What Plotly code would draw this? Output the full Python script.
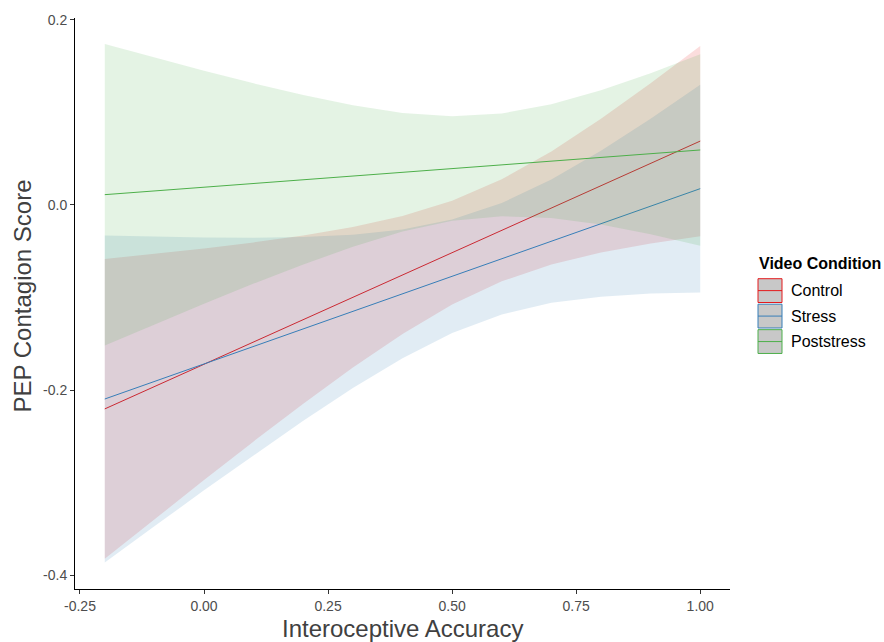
import plotly.graph_objects as go

# Predictor grid shared by all confidence ribbons
x_grid = [-0.2, -0.1, 0.0, 0.1, 0.2, 0.3, 0.4, 0.5, 0.6, 0.7, 0.8, 0.9, 1.0]

# Fitted-line endpoints per video condition
x_ends = [-0.2, 1.0]
control_fit = [-0.2204, 0.0690]
stress_fit = [-0.2097, 0.0176]
poststress_fit = [0.0111, 0.0594]

# 95% confidence ribbons per video condition
control_upper = [-0.0584, -0.0530, -0.0471, -0.0405, -0.0330, -0.0239, -0.0120,
                 0.0045, 0.0277, 0.0577, 0.0930, 0.1314, 0.1718]
control_lower = [-0.3824, -0.3396, -0.2973, -0.2555, -0.2148, -0.1757, -0.1394,
                 -0.1077, -0.0825, -0.0643, -0.0514, -0.0416, -0.0338]
stress_upper = [-0.0329, -0.0343, -0.0352, -0.0355, -0.0347, -0.0321, -0.0266,
                -0.0158, 0.0020, 0.0274, 0.0585, 0.0930, 0.1298]
stress_lower = [-0.3865, -0.3473, -0.3084, -0.2703, -0.2331, -0.1979, -0.1656,
                -0.1384, -0.1184, -0.1058, -0.0991, -0.0958, -0.0946]
poststress_upper = [0.1740, 0.1593, 0.1451, 0.1314, 0.1187, 0.1076, 0.0994,
                    0.0958, 0.0988, 0.1087, 0.1240, 0.1424, 0.1628]
poststress_lower = [-0.1518, -0.1291, -0.1067, -0.0850, -0.0643, -0.0452, -0.0288,
                    -0.0172, -0.0122, -0.0141, -0.0212, -0.0316, -0.0440]

conditions = ["Control", "Stress", "Poststress"]

# Axis ticks
x_tickvals = [-0.25, 0.0, 0.25, 0.5, 0.75, 1.0]
x_ticktext = ["-0.25", "0.00", "0.25", "0.50", "0.75", "1.00"]
y_tickvals = [-0.4, -0.2, 0.0, 0.2]
y_ticktext = ["-0.4", "-0.2", "0.0", "0.2"]

series = {
    "Control": (control_fit, control_upper, control_lower, (228, 26, 28)),
    "Stress": (stress_fit, stress_upper, stress_lower, (55, 126, 184)),
    "Poststress": (poststress_fit, poststress_upper, poststress_lower, (77, 175, 74)),
}

FONT = "Liberation Sans, Arial, sans-serif"
W, H = 884, 642
ML, MR, MT, MB = 75, 154, 13, 53
PW, PH = W - ML - MR, H - MT - MB


def px_x(p):
    return (p - ML) / PW


def px_y(p):
    return 1 - (p - MT) / PH


fig = go.Figure()

for name in conditions:
    fit, upper, lower, (r, g, b) = series[name]
    fig.add_trace(go.Scatter(
        x=x_grid + x_grid[::-1],
        y=upper + lower[::-1],
        fill="toself",
        fillcolor=f"rgba({r},{g},{b},0.15)",
        line=dict(width=0),
        mode="lines",
        hoverinfo="skip",
        showlegend=False,
    ))
    fig.add_trace(go.Scatter(
        x=x_ends,
        y=fit,
        mode="lines",
        line=dict(color=f"rgb({r},{g},{b})", width=1),
        name=name,
        showlegend=False,
    ))

# Legend drawn as keys + labels on the right
shapes = []
annotations = []
annotations.append(dict(
    text="<b>Video Condition</b>", x=px_x(757), y=px_y(261), xref="paper", yref="paper",
    xanchor="left", yanchor="middle", showarrow=False,
    font=dict(family=FONT, size=16, color="#000000"),
))
key_centers = [288, 313.7, 339.4]
for name, cy in zip(conditions, key_centers):
    r, g, b = series[name][3]
    col = f"rgb({r},{g},{b})"
    shapes.append(dict(
        type="rect", xref="paper", yref="paper",
        x0=px_x(758), x1=px_x(782), y0=px_y(cy + 12), y1=px_y(cy - 12),
        fillcolor="#c8c8c8", line=dict(color=col, width=1),
    ))
    shapes.append(dict(
        type="line", xref="paper", yref="paper",
        x0=px_x(758), x1=px_x(782), y0=px_y(cy), y1=px_y(cy),
        line=dict(color=col, width=1),
    ))
    annotations.append(dict(
        text=name, x=px_x(789), y=px_y(cy), xref="paper", yref="paper",
        xanchor="left", yanchor="middle", showarrow=False,
        font=dict(family=FONT, size=16, color="#000000"),
    ))

# Axis titles
annotations.append(dict(
    text="Interoceptive Accuracy", x=0.5, y=0, xref="paper", yref="paper",
    xanchor="center", yanchor="middle", yshift=-39, showarrow=False,
    font=dict(family=FONT, size=24, color="#404040"),
))
annotations.append(dict(
    text="PEP Contagion Score", x=0, y=0.5, xref="paper", yref="paper",
    xanchor="center", yanchor="middle", xshift=-53, yshift=7, textangle=-90,
    showarrow=False,
    font=dict(family=FONT, size=24, color="#404040"),
))

axis_common = dict(
    showgrid=False, zeroline=False, showline=True, linecolor="#000000", linewidth=1,
    ticks="outside", ticklen=4, tickcolor="#333333", tickwidth=1,
    tickfont=dict(family=FONT, size=14, color="#4d4d4d"),
)

fig.update_layout(
    width=W, height=H,
    margin=dict(l=ML, r=MR, t=MT, b=MB),
    paper_bgcolor="white", plot_bgcolor="white",
    xaxis=dict(range=[-0.26, 1.06], tickvals=x_tickvals, ticktext=x_ticktext, **axis_common),
    yaxis=dict(range=[-0.415, 0.202], tickvals=y_tickvals, ticktext=y_ticktext, **axis_common),
    shapes=shapes,
    annotations=annotations,
    showlegend=False,
)

fig.write_html("out.html")
